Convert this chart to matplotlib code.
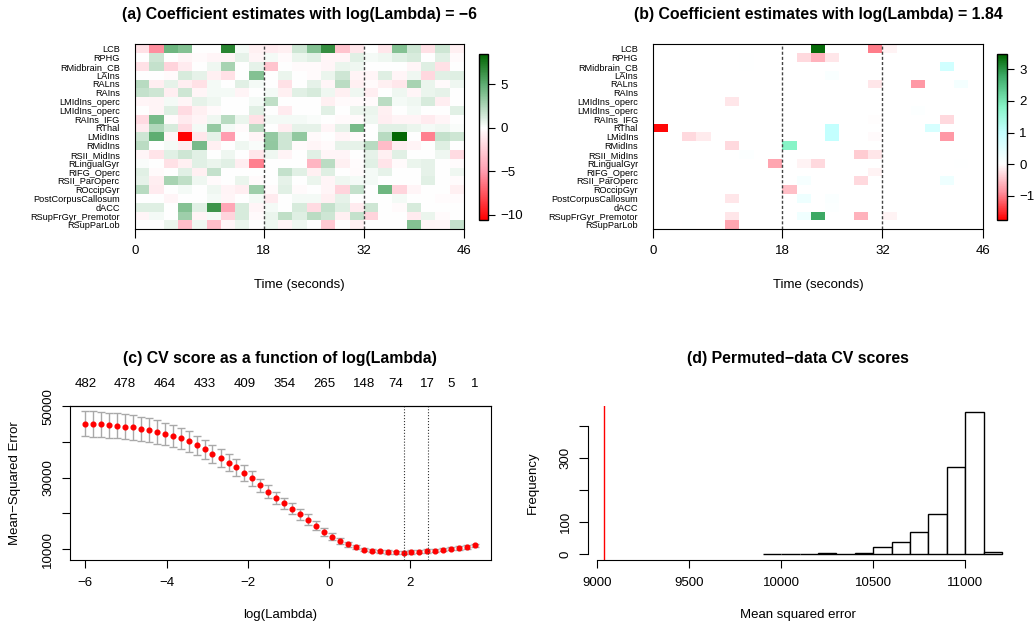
import numpy as np
import matplotlib
matplotlib.use("Agg")
import matplotlib.pyplot as plt
from matplotlib.colors import LinearSegmentedColormap

plt.rcParams["font.family"] = "Liberation Sans"

# ---- data -----------------------------------------------------------------
regions = ["LCB", "RPHG", "RMidbrain_CB", "LAIns", "RALns", "RAIns",
           "LMIdIns_operc", "LMIdIns_operc", "RAIns_IFG", "RThal", "LMidIns",
           "RMidIns", "RSII_MidIns", "RLingualGyr", "RIFG_Operc",
           "RSII_ParOperc", "ROccipGyr", "PostCorpusCallosum", "dACC",
           "RSupFrGyr_Premotor", "RSupParLob"]
time_edges = np.arange(0, 48, 2)      # 23 windows of 2 s
block_marks = [18, 32]
time_ticks = [0, 18, 32, 46]

# coefficients at log(lambda) = -6, one row per region
coef_a = [
    [-1.5, -5.5, 4.5, 3.8, 0, 0, 7.0, 0.3, -0.8, -1.0, -0.8, 1.5, 3.8, 6.5, -3.0, -1.2, 0, -1.2, 3.8, 1.5, -1.5, 1.5, -0.8],
    [0, 1.5, 0, -0.5, -0.3, -0.5, -0.6, 0.8, -0.6, 0.3, -0.3, 0.6, 0.9, -0.5, -0.5, 0.9, 0.3, 0.5, 0.9, 1.2, 0, 0.9, -0.3],
    [-1.5, 1.8, -2.2, -1.0, 0, 0.5, 2.7, 0, 0.8, -3.0, 0, -0.3, -0.3, -0.5, 0.6, 0.5, 0, 0, 0, -0.5, 1.0, -1.5, 0],
    [0, 0, -0.3, 1.2, 0.8, -0.8, -1.5, 0, 3.8, 0, 0.6, 0, -0.3, 0.6, 1.5, -0.6, -0.5, 1.0, -0.5, 0.5, -2.0, 0.9, 1.0],
    [2.2, -0.9, 0.8, -0.9, -1.5, 0.3, 0, 0.9, 0.3, 0, -1.5, 0, 0.8, -0.5, 2.1, -0.8, -0.3, -0.8, -1.2, 2.7, 0.6, -0.3, 0.5],
    [1.8, 1.5, -0.9, 1.5, -0.5, 0.3, 0.3, -0.6, 0, 0.3, -0.8, 0.9, 1.2, 0.5, -0.8, 0.5, -0.9, 0, 0.5, -0.5, 0.6, 0.8, 0],
    [-0.5, -0.6, 0.3, -0.5, 0.8, 0.5, 0, 0, 0.3, 2.0, 0, 0, 0, -0.8, -0.3, -0.3, -0.3, 2.1, 0.3, 0.5, 1.2, -0.9, 0],
    [0, -0.6, 1.0, -1.8, -0.8, -0.3, 0, 0, 0.9, 0, -1.0, 0, 0, 0.9, 0, 0.6, 0.6, -0.8, 0, 0.3, 0, 0, 0.9],
    [-1.8, 4.2, -0.3, -1.0, -0.6, 0.5, 2.2, 0.6, -1.5, 0.3, 0.3, 0.3, 0.2, 0, -0.3, -0.3, 0.5, -0.9, -0.6, -0.6, -1.0, -0.5, 0],
    [-1.0, 2.4, 1.2, -1.8, 0.3, 3.3, 0.3, -0.3, 2.1, 0, -0.9, 0.8, 0.8, -0.5, 0.8, 4.2, 0, 0.9, 0.9, 0.6, 0.3, 0.5, 0.2],
    [1.5, 5.0, -0.5, -10.5, -1.2, 0.8, -5.0, 0, -0.5, 3.3, 1.5, 3.4, -0.3, 0, -0.5, -0.3, 0, 2.2, 8.3, 0, -6.0, 1.8, 1.5],
    [2.1, 0, 0.3, -0.9, 4.2, -0.8, 0, 0.5, 0.2, 3.4, 1.5, -0.3, -0.5, -0.3, 0.8, 0.8, 2.2, -3.4, -0.9, -0.6, 0, 1.0, 0],
    [-0.5, -1.4, 0.9, 1.5, 0.9, 0, 0.5, 0, -1.2, 0.5, -0.6, 0, 0.9, -0.5, -0.5, 0, 0.8, -0.8, 0.9, 0, 0, 0.5, -1.8],
    [0.2, 0, -1.5, -0.8, 0.9, 0.6, 0.9, -0.9, -6.0, 0, 0, 0, -3.8, 2.1, -0.8, -0.2, 0.9, -1.4, -0.3, 0.6, 0.8, 0, -0.2],
    [0.9, -0.3, 0, 0.9, -0.8, 1.8, 0, 0, 0, 0, 1.8, 0.9, -0.8, 1.0, 0, -0.3, 0.3, 0.8, 0, 0, 0.8, 0, 0.5],
    [0.8, -0.9, 2.7, 2.0, 0.5, -0.3, 0, 0.6, -0.3, 0, 0.8, 0, 0.6, -0.5, 0.5, 0.3, 0.3, 0, 0, 0, 0.9, 0, -0.2],
    [2.2, -1.0, 0, 0.3, 0, 0.5, -0.6, -0.9, 3.0, -0.3, 0.9, -0.3, 0, -0.5, -2.2, 1.8, 0, 4.5, -2.2, -0.5, 0, 0, -0.8],
    [0, 0, -0.5, 0, 0, 0.3, -0.5, 0, 0.3, -1.0, 0, 0.3, 0.3, -0.8, 0.8, 0, 0, 0, 0.3, 0, 0, -0.2, -0.2],
    [1.0, 1.0, 0, 3.8, 0.9, 6.2, -4.5, 1.2, -0.5, 0.3, 0, 1.2, -1.8, 1.8, 1.0, -1.0, 1.5, 0, -0.3, 1.2, 0, 0, 0],
    [-0.5, 0.3, 0, 3.0, -0.6, 0.3, -2.2, 1.2, -0.3, 0.6, 2.0, 1.0, 2.1, 1.5, -0.8, 1.8, -2.2, 0, 0, -1.0, 0.6, -0.3, 0],
    [0, 0, 0.6, -3.3, 0.5, -3.3, -0.5, 0.6, 0, 0.5, -0.6, 0.5, 0, -2.7, 0, -0.8, 0, 0, 0, 3.8, -0.6, -0.5, 1.8],
]

# coefficients at log(lambda) = 1.84 (mostly shrunk to zero)
coef_b = [
    [0, 0, 0, 0, 0, 0, 0, 0, 0, 0, 0, 3.4, 0, 0, 0, -1.0, -0.1, 0, 0, 0, 0, 0, 0],
    [0, 0, 0, 0, 0, 0, 0.03, 0, 0, 0, -0.3, -0.6, -0.2, 0, 0, 0, 0, 0, 0, 0, 0, 0, 0],
    [0, 0, 0, 0, 0, 0, 0.02, 0, 0, 0, 0, 0, 0, 0, 0, 0, 0, 0, 0, 0, 0.8, 0, 0],
    [0, 0, 0, 0, 0, 0, 0, 0, 0, 0, 0, 0, 0.1, 0, 0, 0, 0, 0, 0, 0, 0, 0, 0],
    [0, 0, 0, 0, 0, 0, 0, 0, 0, 0, 0, 0, 0, 0, 0, -0.2, 0, 0, -0.8, 0, 0, 0.2, 0],
    [0, 0, 0, 0, 0, 0, 0, 0, 0, 0, 0, 0, 0, 0, 0, 0, 0, 0, 0, 0, 0, 0, 0],
    [0, 0, 0, 0, 0, -0.2, 0, 0, 0, 0, 0, 0, 0, 0, 0, 0, 0, 0, 0, 0, 0, 0, 0],
    [0, 0, 0, 0, 0, 0, 0, 0, 0, 0, 0, 0, 0, 0, 0, 0, 0, 0, 0.05, 0, 0, 0, 0],
    [0, 0, 0, 0, 0, 0, 0, 0, 0, 0, 0, 0, 0, 0, 0, -0.02, 0, 0, 0, 0, -0.3, 0, 0],
    [-1.7, 0, 0, 0, 0, 0, 0, 0, 0, 0, 0, 0, 1.0, 0, 0, 0, 0, 0, 0, 0.7, 0, 0, 0],
    [0, 0, -0.3, -0.15, 0, 0, 0, 0, 0, 0, 0, 0, 1.0, 0, 0, -0.03, 0, 0, 0, 0, -0.8, 0, 0],
    [0, 0, 0, 0, 0, -0.3, 0, 0, 0, 1.8, 0, 0, 0, 0, 0, 0, 0, 0, 0, 0, 0, 0, 0],
    [0, 0, 0, 0, 0, 0, 0.05, 0, 0, 0, 0, 0, 0, 0, -0.4, -0.2, 0, 0, 0, 0, 0, 0, 0],
    [0, 0, 0, 0, 0, 0, 0, 0, -0.7, 0, -0.1, -0.3, 0, 0, 0, 0, 0, 0, 0, 0, 0, 0.02, 0],
    [0, 0, 0, 0, 0, 0, 0, 0, 0, 0, 0, 0, 0, 0, 0, -0.1, 0, 0, 0, 0, 0, 0, 0],
    [0, 0, 0, 0, 0, 0, 0, 0, 0, 0, 0.15, 0, 0, 0, -0.3, 0, 0, 0, 0, 0, 0.3, 0, 0],
    [0, 0, 0, 0, 0, 0, 0, 0, 0, -0.5, 0, 0, 0, 0, 0, 0, 0, 0, 0, 0, 0, 0, 0],
    [0, 0, 0, 0, 0, -0.2, 0, 0, 0, 0, 0.3, 0, 0.08, 0, 0, 0, 0, 0, 0, 0, 0, 0, 0],
    [0, 0, 0, 0, 0, 0, 0, 0, 0, 0, 0, 0, 0.05, 0, 0, 0, 0, 0, 0, 0, 0, 0, 0],
    [0, 0, 0, 0, 0, -0.2, 0, 0, 0, 0, 0.25, 2.8, 0, 0, -0.6, 0, -0.1, 0, 0, 0, 0, 0, 0],
    [0, 0, 0.02, 0, 0, -0.7, 0, 0, 0, 0, 0, 0, 0, 0, 0, 0, 0, 0, 0, 0, 0, 0, 0],
]

# cross-validation curve
loglam = [-6.00, -5.80, -5.61, -5.41, -5.22, -5.02, -4.82, -4.63, -4.43, -4.24,
          -4.04, -3.84, -3.65, -3.45, -3.26, -3.06, -2.87, -2.67, -2.47, -2.28,
          -2.08, -1.89, -1.69, -1.49, -1.30, -1.10, -0.91, -0.71, -0.51, -0.32,
          -0.12, 0.07, 0.27, 0.47, 0.66, 0.86, 1.05, 1.25, 1.45, 1.64,
          1.84, 2.03, 2.23, 2.42, 2.62, 2.82, 3.01, 3.21, 3.40, 3.60]
cv_mse = [45060, 44970, 44870, 44690, 44500, 44220, 44030, 43570, 43290, 42730,
          42170, 41610, 40960, 40120, 39000, 37880, 36670, 35460, 34150, 32840,
          31260, 29770, 27810, 26040, 24360, 22770, 21280, 19790, 18210, 16530,
          14850, 13450, 12300, 11300, 10520, 9880, 9530, 9350, 9200, 9100,
          9040, 9160, 9250, 9440, 9530, 9800, 10080, 10360, 10640, 11030]
cv_se = [3550, 3540, 3530, 3510, 3490, 3460, 3420, 3380, 3320, 3250,
         3170, 3080, 2980, 2870, 2770, 2660, 2550, 2450, 2350, 2250,
         2140, 2040, 1920, 1800, 1690, 1590, 1560, 1560, 1490, 1310,
         1120, 930, 750, 650, 560, 500, 480, 470, 460, 460,
         460, 460, 460, 460, 460, 470, 470, 480, 480, 490]
nz_at = [0, 5, 10, 15, 20, 25, 30, 35, 39, 43, 46, 49]
nz_count = [482, 478, 464, 433, 409, 354, 265, 148, 74, 17, 5, 1]
lam_min_log = 1.84
lam_1se_log = 2.44

# permutation histogram
perm_left = [9900, 10000, 10100, 10200, 10300, 10400, 10500,
             10600, 10700, 10800, 10900, 11000, 11100]
perm_count = [2, 1, 2, 3, 2, 5, 24, 37, 69, 126, 272, 444, 8]
obs_mse = 9038

# ---- layout ---------------------------------------------------------------
W, H = 1035, 627
fig = plt.figure(figsize=(W / 100, H / 100), dpi=100)


def box(x0, y0, x1, y1):
    return [x0 / W, 1 - y1 / H, (x1 - x0) / W, (y1 - y0) / H]


def ramp(name, stops):
    lo, hi = stops[0][0], stops[-1][0]
    return LinearSegmentedColormap.from_list(
        name, [((v - lo) / (hi - lo), c) for v, c in stops])


cmap_a = ramp("a", [(-10.6, "#ff0000"), (-5, "#ff9daf"), (0, "#ffffff"),
                    (5, "#5fae73"), (8.5, "#006400")])
cmap_b = ramp("b", [(-1.76, "#ff0000"), (-0.9, "#ff8e9c"), (0, "#ffffff"),
                    (1.0, "#c4ffff"), (1.8, "#88f5c8"), (2.8, "#3daa66"),
                    (3.47, "#006400")])


def heatmap(rect, crect, coefs, cmap, lo, hi, cticks, title):
    ax = fig.add_axes(box(*rect))
    mesh = ax.pcolormesh(time_edges, np.arange(len(regions) + 1),
                         np.array(coefs), cmap=cmap, vmin=lo, vmax=hi)
    ax.set_xlim(0, 46)
    ax.set_ylim(len(regions), 0)
    for t in block_marks:
        ax.axvline(t, color="#444444", lw=1, ls=(0, (2.2, 1.5)))
    ax.set_yticks(np.arange(len(regions)) + 0.5, regions, fontsize=6.6)
    ax.tick_params(axis="y", length=0, pad=11)
    ax.set_xticks(time_ticks)
    ax.tick_params(axis="x", length=6.5, pad=4.7, labelsize=9.5)
    cx = (rect[0] + rect[2]) / 2
    fig.text(cx / W, 1 - 15 / H, title, ha="center", va="center",
             fontsize=11.4, fontweight="bold")
    fig.text(cx / W, 1 - 285 / H, "Time (seconds)", ha="center",
             va="center", fontsize=9.5)
    cax = fig.add_axes(box(*crect))
    cb = fig.colorbar(mesh, cax=cax, ticks=cticks)
    cb.outline.set_linewidth(1)
    cax.tick_params(length=4.8, pad=4.3, labelsize=9.5)


heatmap((135, 44.3, 464, 229.3), (479, 54, 488, 220), coef_a, cmap_a,
        -10.6, 8.5, [-10, -5, 0, 5],
        "(a) Coefficient estimates with log(Lambda) = \u22126")
heatmap((653.3, 44.3, 982.7, 229.3), (996.7, 54.3, 1006.7, 220), coef_b,
        cmap_b, -1.76, 3.47, [-1, 0, 1, 2, 3],
        "(b) Coefficient estimates with log(Lambda) = 1.84")

# (c) CV curve
ax_c = fig.add_axes(box(69.7, 405.7, 490.7, 560))
ax_c.errorbar(loglam, cv_mse, yerr=cv_se, fmt="none", ecolor="#a9a9a9",
              elinewidth=1, capsize=2.9, capthick=1)
ax_c.plot(loglam, cv_mse, "o", color="red", ms=3.4)
for v in (lam_min_log, lam_1se_log):
    ax_c.axvline(v, color="#333333", lw=0.8, ls=":")
ax_c.set_xlim(-6.384, 3.984)
ax_c.set_ylim(6950, 50120)
ax_c.set_xticks([-6, -4, -2, 0, 2])
ax_c.set_yticks([10000, 20000, 30000, 40000, 50000],
                ["10000", "", "30000", "", "50000"])
ax_c.tick_params(axis="x", length=5.8, pad=6.3, labelsize=9.5)
ax_c.tick_params(axis="y", length=5.8, pad=5.4, labelsize=9.5)
plt.setp(ax_c.get_yticklabels(), rotation=90, va="center")
top = ax_c.secondary_xaxis("top")
top.set_xticks([loglam[i] for i in nz_at], [str(n) for n in nz_count])
top.tick_params(length=0, pad=11.2, labelsize=9.5)
fig.text(280.2 / W, 1 - 358 / H, "(c) CV score as a function of log(Lambda)",
         ha="center", va="center", fontsize=11.4, fontweight="bold")
fig.text(280.2 / W, 1 - 615 / H, "log(Lambda)", ha="center", va="center",
         fontsize=9.5)
fig.text(15 / W, 1 - 482.8 / H, "Mean\u2212Squared Error", ha="center",
         va="center", rotation=90, fontsize=9.5)

# (d) permutation histogram
ax_d = fig.add_axes(box(588, 405.9, 1008, 560))
ax_d.bar(perm_left, perm_count, width=100, align="edge", color="white",
         edgecolor="black", lw=1)
ax_d.axvline(obs_mse, color="red", lw=1)
ax_d.set_xlim(8951, 11232)
ax_d.set_ylim(-17.8, 461.8)
for s in ("top", "right"):
    ax_d.spines[s].set_visible(False)
ax_d.spines["bottom"].set_bounds(9000, 11000)
ax_d.spines["left"].set_bounds(0, 400)
ax_d.set_xticks([9000, 9500, 10000, 10500, 11000])
ax_d.set_yticks([0, 100, 200, 300, 400], ["0", "100", "", "300", ""])
ax_d.tick_params(axis="x", length=6, pad=6, labelsize=9.5)
ax_d.tick_params(axis="y", length=6.5, pad=5.2, labelsize=9.5)
plt.setp(ax_d.get_yticklabels(), rotation=90, va="center")
fig.text(798 / W, 1 - 358 / H, "(d) Permuted\u2212data CV scores",
         ha="center", va="center", fontsize=11.4, fontweight="bold")
fig.text(798 / W, 1 - 615 / H, "Mean squared error", ha="center",
         va="center", fontsize=9.5)
fig.text(533.3 / W, 1 - 482.5 / H, "Frequency", ha="center", va="center",
         rotation=90, fontsize=9.5)

fig.savefig("out.png", dpi=100)
